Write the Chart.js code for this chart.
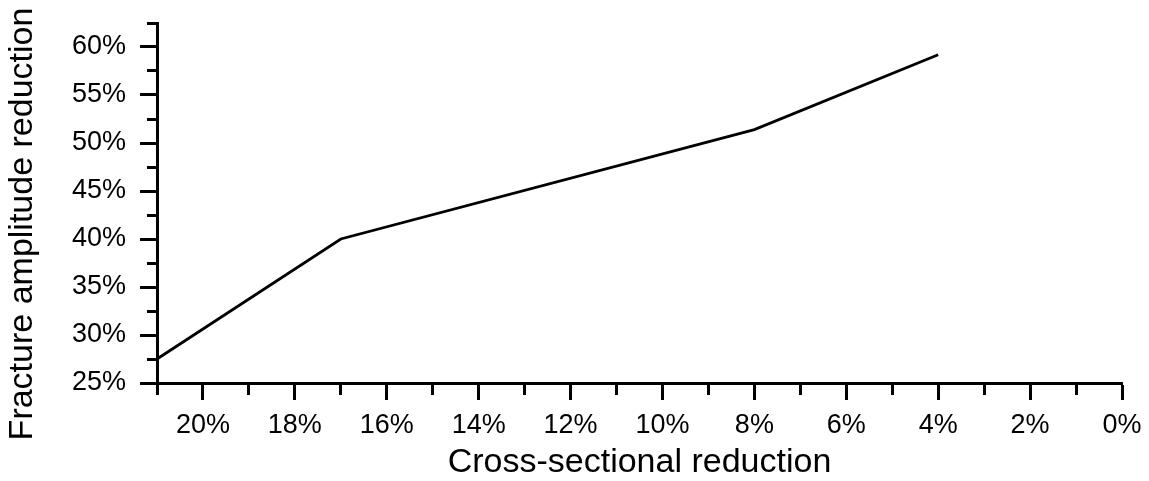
<!DOCTYPE html>
<html>
<head>
<meta charset="utf-8">
<title>Fracture amplitude vs cross-sectional reduction</title>
<script src="https://cdn.jsdelivr.net/npm/chart.js@4/dist/chart.umd.min.js"></script>
<style>
    html, body { margin: 0; padding: 0; background: #fff; }
    .chart-box { position: relative; width: 1149px; height: 481px; }
</style>
</head>
<body>
<div class="chart-box">
    <canvas id="reductionChart"></canvas>
</div>
<script>
// data (percent)
const crossSection = [21, 17, 8, 4];
const fractureAmplitude = [27.5, 40, 51.4, 59.2];

// tick values, majors get a label
const xTickValues = [0, 1, 2, 3, 4, 5, 6, 7, 8, 9, 10, 11, 12, 13, 14, 15, 16, 17, 18, 19, 20, 21];
const xMajorTicks = [0, 2, 4, 6, 8, 10, 12, 14, 16, 18, 20];
const yTickValues = [25, 27.5, 30, 32.5, 35, 37.5, 40, 42.5, 45, 47.5, 50, 52.5, 55, 57.5, 60, 62.5];
const yMajorTicks = [25, 30, 35, 40, 45, 50, 55, 60];

const xTitle = 'Cross-sectional reduction';
const yTitle = 'Fracture amplitude reduction';

const fontFamily = '"Liberation Sans", Arial, Helvetica, sans-serif';

function isMajor(list, value) {
    return list.some(v => Math.abs(v - value) < 1e-6);
}

// short minor ticks: only part of the tick line gets dashed in
function minorDash(list) {
    return function(ctx) {
        if (!ctx.tick || isMajor(list, ctx.tick.value)) {
            return [];
        }
        return [10, 100];
    };
}

// the y axis title sits a bit lower than the axis centre, so draw it by hand
const yTitlePlugin = {
    id: 'yTitle',
    afterDraw(chart, args, opts) {
        const { ctx, chartArea } = chart;
        ctx.save();
        ctx.font = `34px ${fontFamily}`;
        ctx.fillStyle = '#000';
        ctx.textAlign = 'center';
        ctx.textBaseline = 'middle';
        ctx.translate(opts.x, (chartArea.top + chartArea.bottom) / 2 + opts.shift);
        ctx.rotate(-Math.PI / 2);
        ctx.fillText(yTitle, 0, 0);
        ctx.restore();
    }
};

const points = crossSection.map((x, i) => ({ x: x, y: fractureAmplitude[i] }));

new Chart(document.getElementById('reductionChart'), {
    type: 'line',
    data: {
        datasets: [{
            data: points,
            borderColor: '#000',
            borderWidth: 2.8,
            pointRadius: 0,
            tension: 0,
            fill: false
        }]
    },
    plugins: [yTitlePlugin],
    options: {
        responsive: true,
        maintainAspectRatio: false,
        animation: false,
        layout: {
            padding: { top: 23, right: 27, left: 0, bottom: 0 }
        },
        plugins: {
            legend: { display: false },
            tooltip: { enabled: false },
            yTitle: { x: 23, shift: 21 }
        },
        scales: {
            x: {
                type: 'linear',
                reverse: true,
                min: 0,
                max: 21,
                afterBuildTicks: axis => {
                    axis.ticks = xTickValues.map(v => ({ value: v }));
                },
                afterFit: axis => {
                    axis.height = 98;
                    axis.paddingLeft = 0;
                    axis.paddingRight = 0;
                },
                border: { display: true, color: '#000', width: 3 },
                grid: {
                    drawOnChartArea: false,
                    drawTicks: true,
                    tickLength: 17,
                    tickWidth: 3,
                    tickColor: '#000',
                    tickBorderDash: minorDash(xMajorTicks),
                    tickBorderDashOffset: 0
                },
                ticks: {
                    autoSkip: false,
                    maxRotation: 0,
                    padding: 9,
                    color: '#000',
                    font: { family: fontFamily, size: 27 },
                    callback: value => isMajor(xMajorTicks, value) ? value + '%' : ''
                },
                title: {
                    display: true,
                    text: xTitle,
                    color: '#000',
                    font: { family: fontFamily, size: 34, lineHeight: 1 },
                    padding: { top: 0, bottom: 1 }
                }
            },
            y: {
                type: 'linear',
                min: 25,
                max: 62.5,
                afterBuildTicks: axis => {
                    axis.ticks = yTickValues.map(v => ({ value: v }));
                },
                afterFit: axis => {
                    axis.width = 157;
                    axis.paddingTop = 0;
                    axis.paddingBottom = 0;
                },
                border: { display: true, color: '#000', width: 3 },
                grid: {
                    drawOnChartArea: false,
                    drawTicks: true,
                    tickLength: 17,
                    tickWidth: 3,
                    tickColor: '#000',
                    tickBorderDash: minorDash(yMajorTicks),
                    tickBorderDashOffset: ctx => (ctx.tick && !isMajor(yMajorTicks, ctx.tick.value)) ? -7 : 0
                },
                ticks: {
                    autoSkip: false,
                    padding: 14,
                    color: '#000',
                    font: { family: fontFamily, size: 27 },
                    callback: value => isMajor(yMajorTicks, value) ? value + '%' : ''
                },
                title: { display: false }
            }
        }
    }
});
</script>
</body>
</html>
